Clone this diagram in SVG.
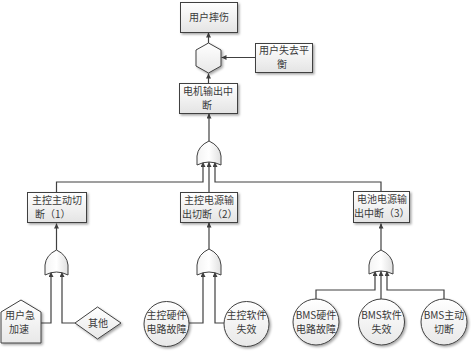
<svg xmlns="http://www.w3.org/2000/svg" width="471" height="351" viewBox="0 0 471 351">
<style>
.bg{fill:#ffffff}
.box{fill:url(#gBox);stroke:#404040;stroke-width:1}
.shape{fill:url(#gShape);stroke:#404040;stroke-width:1}
.gate{fill:url(#gGate);stroke:#404040;stroke-width:1}
.t{font-family:"Noto Sans CJK SC","Liberation Sans",sans-serif;font-size:10px;fill:#3a3a3a}
.c{text-anchor:middle}
.ln{fill:none;stroke:#404040;stroke-width:1.2}
.ar{marker-end:url(#arr)}
</style>
<defs>
<linearGradient id="gBox" x1="0" y1="0" x2="0" y2="1">
<stop offset="0" stop-color="#ffffff"/>
<stop offset="1" stop-color="#e4e4e4"/>
</linearGradient>
<linearGradient id="gShape" x1="0" y1="0" x2="0" y2="1">
<stop offset="0" stop-color="#ffffff"/>
<stop offset="1" stop-color="#e8e8e8"/>
</linearGradient>
<linearGradient id="gGate" x1="0" y1="0" x2="1" y2="0">
<stop offset="0" stop-color="#f4f4f4"/>
<stop offset="0.5" stop-color="#ffffff"/>
<stop offset="1" stop-color="#e0e0e0"/>
</linearGradient>
<filter id="sh" x="-20%" y="-20%" width="150%" height="150%">
<feDropShadow dx="1.5" dy="1.5" stdDeviation="0.8" flood-color="#000" flood-opacity="0.35"/>
</filter>
<marker id="arr" viewBox="0 0 6 6" refX="6" refY="3" markerWidth="5" markerHeight="5" markerUnits="userSpaceOnUse" orient="auto">
<path d="M0,0 L6,3 L0,6 Z" fill="#404040"/>
</marker>
</defs>
<rect class="bg" x="0" y="0" width="471" height="351"/>

<g id="connectors">
<line class="ln ar" x1="208.5" y1="43" x2="208.5" y2="32.5"/>
<line class="ln ar" x1="255" y1="57.5" x2="221.5" y2="57.5"/>
<line class="ln ar" x1="208.5" y1="83" x2="208.5" y2="73.5"/>
<line class="ln ar" x1="209" y1="141" x2="209" y2="113.5"/>
<polyline class="ln ar" points="56.5,192 56.5,182 203,182 203,162"/>
<polyline class="ln ar" points="209,192 209,162"/>
<polyline class="ln ar" points="381,191 381,182 215,182 215,162"/>
<line class="ln ar" x1="56.5" y1="250" x2="56.5" y2="223.5"/>
<polyline class="ln ar" points="41,323 51,323 51,272"/>
<polyline class="ln ar" points="75,323 62,323 62,272"/>
<line class="ln ar" x1="209" y1="249" x2="209" y2="222.5"/>
<polyline class="ln ar" points="189,323 203,323 203,272"/>
<polyline class="ln ar" points="224,323 215,323 215,272"/>
<line class="ln ar" x1="381" y1="250" x2="381" y2="223.5"/>
<polyline class="ln ar" points="316,299 316,290 375,290 375,271"/>
<polyline class="ln ar" points="381,299 381,271"/>
<polyline class="ln ar" points="444,299 444,290 387,290 387,271"/>
</g>

<g id="n_top">
<rect class="box" filter="url(#sh)" x="180.5" y="2.5" width="57" height="30"/>
<text class="t c" x="209" y="21">用户摔伤</text>
</g>
<g id="n_hex">
<polygon class="shape" filter="url(#sh)" points="208.5,43 221,50 221,66 208.5,73 196,66 196,50"/>
</g>
<g id="n_balance">
<rect class="box" filter="url(#sh)" x="255.5" y="43.5" width="57" height="29"/>
<text class="t c" x="284" y="54">用户失去平</text>
<text class="t c" x="282" y="68">衡</text>
</g>
<g id="n_motor">
<rect class="box" filter="url(#sh)" x="179.5" y="83.5" width="58" height="30"/>
<text class="t c" x="208" y="95">电机输出中</text>
<text class="t c" x="207" y="109">断</text>
</g>
<g id="g_top">
<path class="gate" d="M197,165 L197,156 Q198,146 209,141 Q220,146 221,156 L221,165 Q209,159 197,165 Z"/>
</g>
<g id="n_b1">
<rect class="box" filter="url(#sh)" x="27.5" y="192.5" width="59" height="30"/>
<text class="t" x="32" y="204">主控主动切</text>
<text class="t" x="35" y="218">断（1）</text>
</g>
<g id="n_b2">
<rect class="box" filter="url(#sh)" x="180.5" y="192.5" width="57" height="30"/>
<text class="t" x="184" y="204">主控电源输</text>
<text class="t" x="182" y="218">出切断（2）</text>
</g>
<g id="n_b3">
<rect class="box" filter="url(#sh)" x="353.5" y="191.5" width="56" height="31"/>
<text class="t" x="357" y="203">电池电源输</text>
<text class="t" x="354" y="217">出中断（3）</text>
</g>
<g id="g1">
<path class="gate" d="M45,275 L45,265 Q46,255 56.5,250 Q67,255 68,265 L68,275 Q56.5,269 45,275 Z"/>
</g>
<g id="g2">
<path class="gate" d="M197,275 L197,265 Q198,254 209,249 Q220,254 221,265 L221,275 Q209,269 197,275 Z"/>
</g>
<g id="g3">
<path class="gate" d="M369,274 L369,265 Q370,255 381,250 Q392,255 393,265 L393,274 Q381,268 369,274 Z"/>
</g>
<g id="n_accel">
<polygon class="shape" filter="url(#sh)" points="21,300 41,312 41,343 1,343 1,312"/>
<text class="t c" x="20" y="319">用户急</text>
<text class="t c" x="19" y="333">加速</text>
</g>
<g id="n_other">
<polygon class="shape" filter="url(#sh)" points="75,323 97.5,307 121,323 97.5,339"/>
<text class="t c" x="98" y="327">其他</text>
</g>
<g id="n_hw">
<circle class="shape" filter="url(#sh)" cx="166.5" cy="324" r="22.5"/>
<text class="t c" x="166.5" y="319">主控硬件</text>
<text class="t c" x="166.5" y="333">电路故障</text>
</g>
<g id="n_sw">
<circle class="shape" filter="url(#sh)" cx="246.5" cy="324" r="22.5"/>
<text class="t c" x="246.5" y="319">主控软件</text>
<text class="t c" x="246.5" y="333">失效</text>
</g>
<g id="n_bms_hw">
<circle class="shape" filter="url(#sh)" cx="316" cy="322" r="23"/>
<text class="t c" x="316" y="319">BMS硬件</text>
<text class="t c" x="316" y="333">电路故障</text>
</g>
<g id="n_bms_sw">
<circle class="shape" filter="url(#sh)" cx="381.5" cy="322" r="23"/>
<text class="t c" x="381.5" y="319">BMS软件</text>
<text class="t c" x="381.5" y="333">失效</text>
</g>
<g id="n_bms_cut">
<circle class="shape" filter="url(#sh)" cx="444" cy="322" r="23"/>
<text class="t c" x="444" y="319">BMS主动</text>
<text class="t c" x="444" y="333">切断</text>
</g>
</svg>
